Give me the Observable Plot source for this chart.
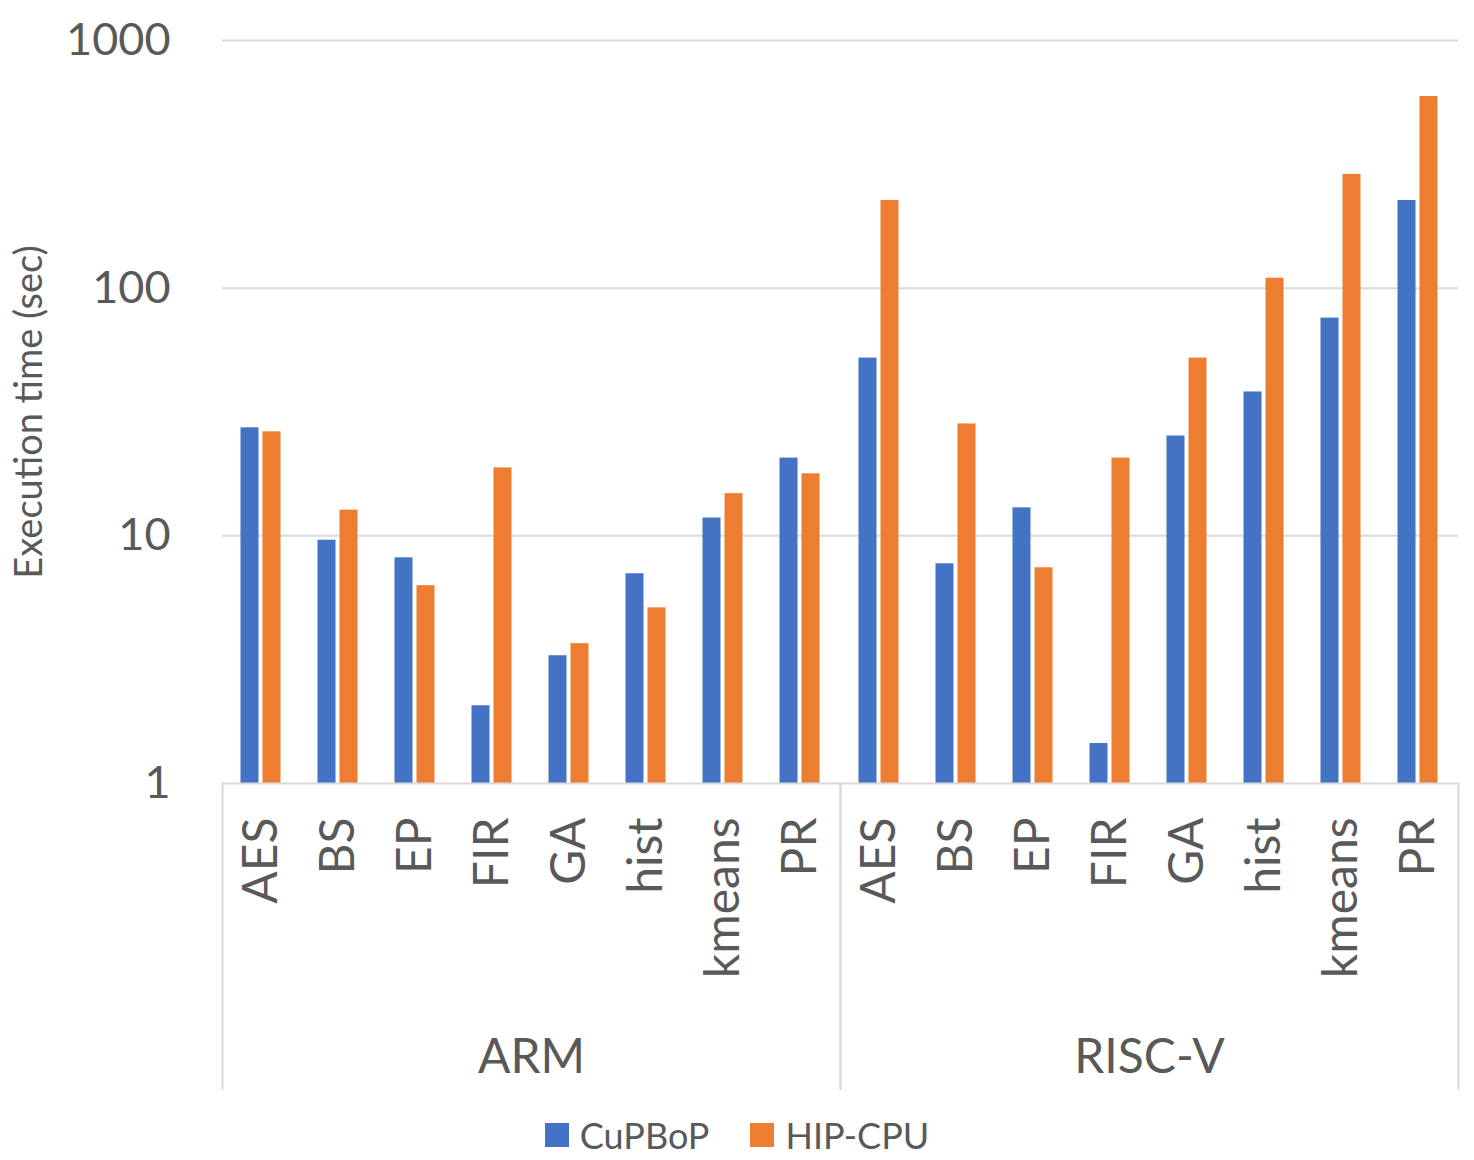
<!DOCTYPE html>
<html><head><meta charset="utf-8">
<script src="https://cdn.jsdelivr.net/npm/d3@7"></script>
<script src="https://cdn.jsdelivr.net/npm/@observablehq/plot@0.6"></script>
<style>
body{margin:0;background:#fff;font-family:Lato,sans-serif;}
#legend{display:flex;justify-content:center;align-items:center;height:65px;padding-top:7px;gap:41px;color:#595959;font-size:36px;width:1474px;}
.item{display:flex;align-items:center;gap:11px}
.sw{width:24px;height:24px;display:inline-block}
</style></head><body>
<div id="chart"></div>
<div id="legend"></div>
<script>
const benchmarks = ["AES", "BS", "EP", "FIR", "GA", "hist", "kmeans", "PR"];
const platforms = ["ARM", "RISC-V"];
const seriesNames = ["CuPBoP", "HIP-CPU"];
const seriesColors = ["#4472C4", "#ED7D31"];
const cupbopARM = [27.3, 9.6, 8.15, 2.06, 3.28, 7.03, 11.8, 20.6];
const hipARM = [26.3, 12.7, 6.29, 18.8, 3.67, 5.12, 14.8, 17.8];
const cupbopRISCV = [52.2, 7.71, 12.97, 1.45, 25.3, 38.1, 75.7, 226];
const hipRISCV = [226, 28.3, 7.43, 20.6, 52.2, 109.7, 288, 594];
const yTicks = [1, 10, 100, 1000];

const table = [];
benchmarks.forEach((b, i) => {
  table.push({platform: "ARM", bench: b, series: "CuPBoP", value: cupbopARM[i]});
  table.push({platform: "ARM", bench: b, series: "HIP-CPU", value: hipARM[i]});
  table.push({platform: "RISC-V", bench: b, series: "CuPBoP", value: cupbopRISCV[i]});
  table.push({platform: "RISC-V", bench: b, series: "HIP-CPU", value: hipRISCV[i]});
});

const W = 1474, H = 1095, mTop = 40, mBottom = 312, mLeft = 222, mRight = 16;
const frameH = H - mTop - mBottom;
const grid = "#d9d9d9", ink = "#595959";

const chart = Plot.plot({
  width: W, height: H,
  marginTop: mTop, marginBottom: mBottom, marginLeft: mLeft, marginRight: mRight,
  style: {fontFamily: "Lato, sans-serif", color: ink, background: "white", overflow: "visible"},
  fx: {domain: platforms, padding: 0},
  x: {domain: benchmarks, padding: 0},
  y: {type: "log", domain: [1, 1000]},
  marks: [
    Plot.ruleY(yTicks.slice(1), {stroke: grid, strokeWidth: 2}),
    Plot.barY(table.filter(d => d.series === seriesNames[0]), {fx: "platform", x: "bench", y1: 1, y2: "value", fill: seriesColors[0], insetLeft: 17.5, insetRight: 41.5}),
    Plot.barY(table.filter(d => d.series === seriesNames[1]), {fx: "platform", x: "bench", y1: 1, y2: "value", fill: seriesColors[1], insetLeft: 39.5, insetRight: 19.5}),
    Plot.ruleY([1], {stroke: grid, strokeWidth: 2}),
    Plot.frame({anchor: "left", stroke: grid, strokeWidth: 2, insetTop: frameH, insetBottom: -305}),
    Plot.frame({anchor: "right", stroke: grid, strokeWidth: 2, insetTop: frameH, insetBottom: -305}),
    Plot.axisY({ticks: yTicks, tickFormat: d => String(d), tickSize: 0, tickPadding: 52, fontSize: 45, label: null, fill: ink}),
    Plot.axisY({ticks: [], tickSize: 0, fontSize: 38, label: "Execution time (sec)", labelAnchor: "center", labelOffset: 207, labelArrow: "none", fill: ink}),
    Plot.axisX({tickRotate: -90, tickSize: 0, tickPadding: 34, fontSize: 48, label: null, fill: ink}),
    Plot.axisFx({anchor: "bottom", tickSize: 0, tickPadding: 255, fontSize: 48, label: null, fill: ink})
  ]
});
document.getElementById("chart").appendChild(chart);

const legend = document.getElementById("legend");
seriesNames.forEach((s, i) => {
  const item = document.createElement("div");
  item.className = "item";
  const sw = document.createElement("span");
  sw.className = "sw";
  sw.style.background = seriesColors[i];
  const t = document.createElement("span");
  t.textContent = s;
  item.appendChild(sw); item.appendChild(t);
  legend.appendChild(item);
});
</script>
</body></html>
